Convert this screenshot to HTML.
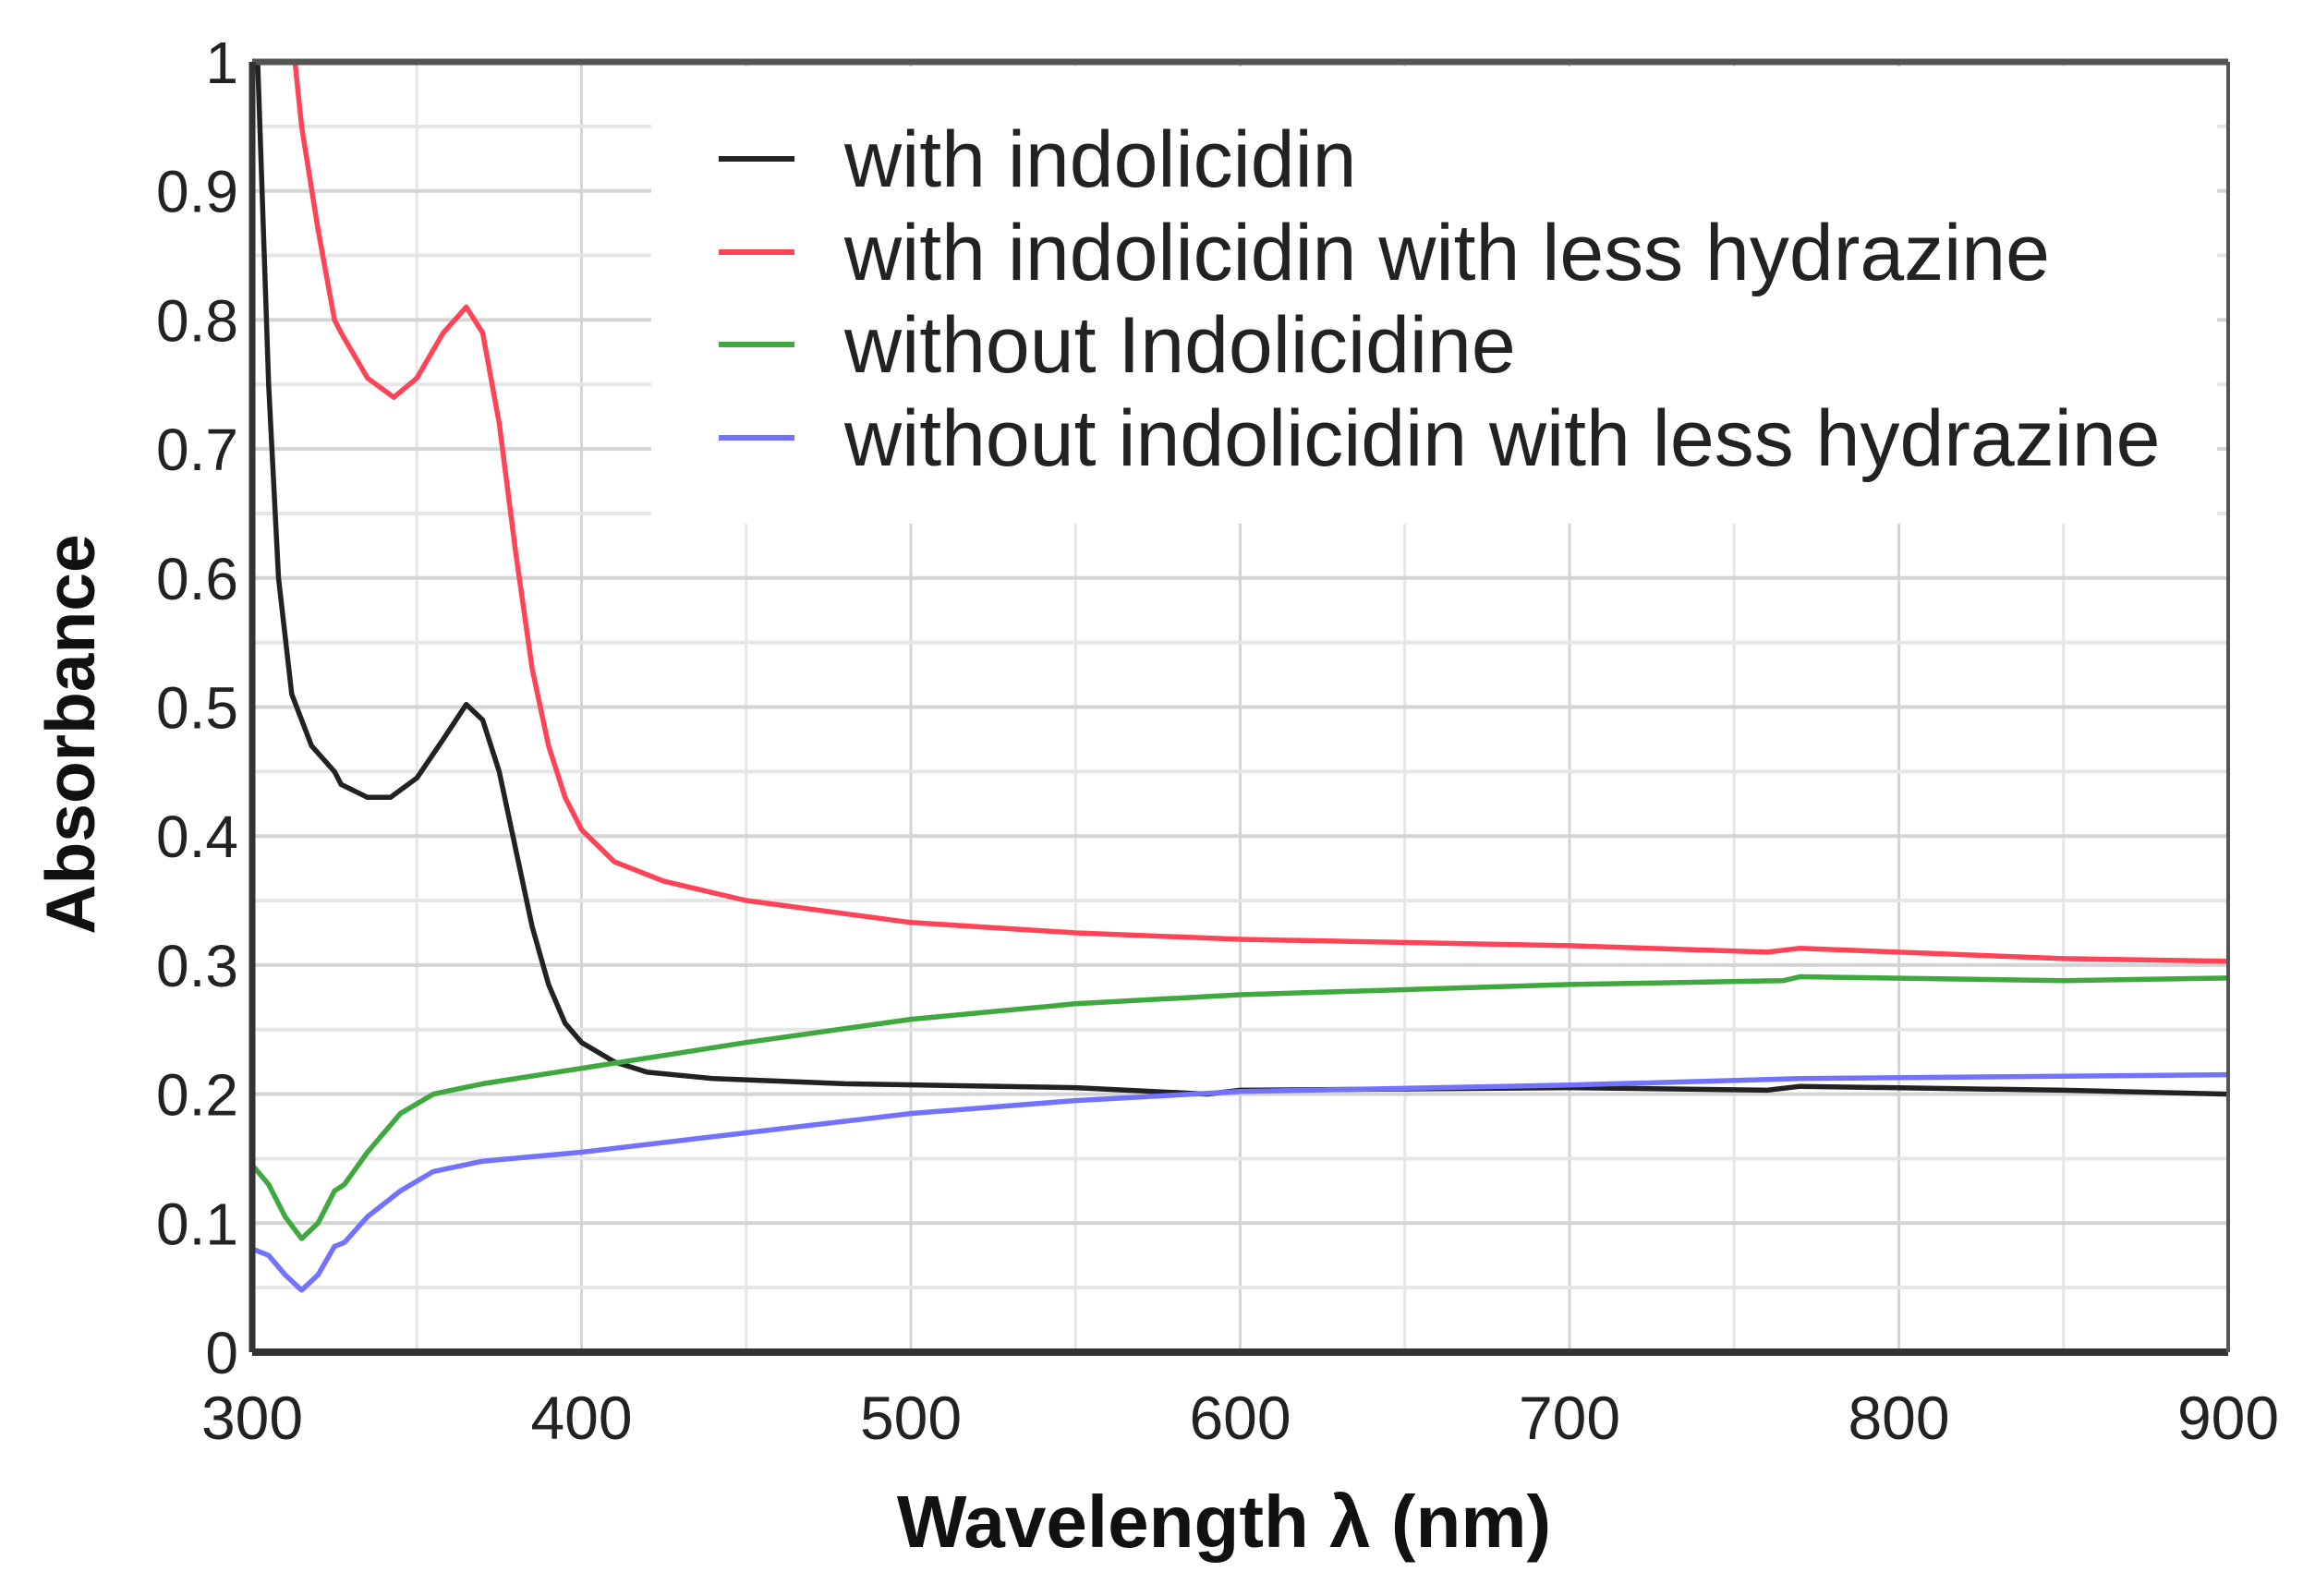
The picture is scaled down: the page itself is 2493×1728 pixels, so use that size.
<!DOCTYPE html>
<html><head><meta charset="utf-8"><style>
html,body{margin:0;padding:0;background:#fff;}
svg{display:block;font-family:"Liberation Sans",Arial,sans-serif;}
</style></head><body>
<svg id="chart" width="2493" height="1728" viewBox="0 0 2493 1728" xmlns="http://www.w3.org/2000/svg">
<g id="grid"></g>
<rect x="705" y="72" width="1695" height="495" fill="#fff"/>
<g id="series"></g>
<g id="axes"></g>
<g id="legend"></g>
<text x="1325" y="1675" font-size="80" font-weight="bold" text-anchor="middle" fill="#111">Wavelength λ (nm)</text>
<text transform="translate(102,795) rotate(-90)" font-size="75" font-weight="bold" text-anchor="middle" fill="#111">Absorbance</text>
</svg>
<script>
const xTicks=[300,400,500,600,700,800,900];
const yTicks=[0,0.1,0.2,0.3,0.4,0.5,0.6,0.7,0.8,0.9,1];
const seriesNames=["with indolicidin","with indolicidin with less hydrazine","without Indolicidine","without indolicidin with less hydrazine"];
const blackX=[301,303,305,308,312,318,325,327,335,342,350,358,365,370,375,380,385,390,395,400,410,420,440,480,550,590,600,700,760,770,850,900];
const blackY=[1.05,0.9,0.75,0.6,0.51,0.47,0.45,0.44,0.43,0.43,0.445,0.475,0.502,0.49,0.45,0.39,0.33,0.285,0.255,0.24,0.225,0.217,0.212,0.208,0.205,0.2,0.203,0.205,0.203,0.206,0.203,0.2];
const redX=[313,315,320,325,327,335,343,350,358,365,370,375,380,385,390,395,400,410,425,450,500,550,600,700,760,770,800,850,900];
const redY=[1.0,0.95,0.87,0.8,0.79,0.755,0.74,0.755,0.79,0.81,0.79,0.72,0.62,0.53,0.47,0.43,0.405,0.38,0.365,0.35,0.333,0.325,0.32,0.315,0.31,0.313,0.31,0.305,0.303];
const greenX=[300,305,310,315,320,325,328,335,345,355,370,400,450,500,550,600,700,765,770,850,900];
const greenY=[0.145,0.13,0.105,0.088,0.1,0.125,0.13,0.155,0.185,0.2,0.208,0.22,0.24,0.258,0.27,0.277,0.285,0.288,0.291,0.288,0.29];
const blueX=[300,305,310,315,320,325,328,335,345,355,370,400,450,500,550,600,700,770,900];
const blueY=[0.08,0.075,0.06,0.048,0.06,0.082,0.085,0.105,0.125,0.14,0.148,0.155,0.17,0.185,0.195,0.202,0.207,0.212,0.215];

const NS="http://www.w3.org/2000/svg";
const L=273,R=2412,T=67,B=1464;
const sx=v=>L+(v-300)/600*(R-L);
const sy=v=>B-v*(B-T);
function mk(tag,attrs,parent){const e=document.createElementNS(NS,tag);for(const k in attrs)e.setAttribute(k,attrs[k]);parent.appendChild(e);return e;}
const grid=document.getElementById('grid');
for(let v=350;v<900;v+=50){
  const g=mk('line',{x1:sx(v),x2:sx(v),y1:T,y2:B,stroke:v%100===0?'#d4d4d4':'#e6e6e6','stroke-width':3},grid);
  
  
}
for(let i=1;i<20;i++){
  const v=i*0.05;
  const g=mk('line',{x1:L,x2:R,y1:sy(v),y2:sy(v),stroke:i%2===0?'#d4d4d4':'#e6e6e6','stroke-width':4},grid);
  
  
}
const ser=document.getElementById('series');
const defs=[[blackX,blackY,'#222222'],[redX,redY,'#ff4458'],[greenX,greenY,'#3fa83f'],[blueX,blueY,'#7272ff']];
const clip=mk('clipPath',{id:'pc'},ser);mk('rect',{x:L,y:T,width:R-L,height:B-T},clip);
defs.forEach((d,i)=>{
  const pts=d[0].map((x,j)=>sx(x).toFixed(1)+','+sy(d[1][j]).toFixed(1)).join(' ');
  const p=mk('polyline',{points:pts,fill:'none',stroke:d[2],'stroke-width':5.5,'stroke-linejoin':'round','clip-path':'url(#pc)'},ser);
  
  
});
const ax=document.getElementById('axes');
mk('line',{x1:L,x2:R,y1:T,y2:T,stroke:'#555','stroke-width':7},ax);
mk('line',{x1:L,x2:R,y1:B,y2:B,stroke:'#333','stroke-width':8},ax);
mk('line',{x1:L,x2:L,y1:T,y2:B,stroke:'#333','stroke-width':7},ax);
mk('line',{x1:R,x2:R,y1:T,y2:B,stroke:'#555','stroke-width':4},ax);
xTicks.forEach(v=>{
  const t=mk('text',{x:sx(v),y:1558,'font-size':66,'text-anchor':'middle',fill:'#222'},ax);t.textContent=v;
  
  
});
yTicks.forEach(v=>{
  const t=mk('text',{x:258,y:sy(v)+23,'font-size':64,'text-anchor':'end',fill:'#222'},ax);t.textContent=String(v);
  
  
});
const lg=document.getElementById('legend');
const ly=[172,273,373,474];
seriesNames.forEach((n,i)=>{
  const l=mk('line',{x1:778,x2:860,y1:ly[i],y2:ly[i],stroke:defs[i][2],'stroke-width':6},lg);
  
  
  const t=mk('text',{x:914,y:ly[i]+30,'font-size':86,fill:'#222'},lg);t.textContent=n;
  
  
});
</script>
</body></html>
